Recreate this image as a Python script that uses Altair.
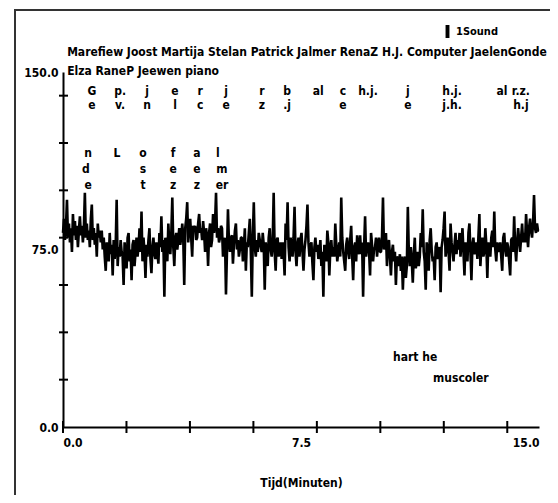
import altair as alt
import pandas as pd
import numpy as np

# ---- series ----
series_name = "1Sound"
sound = [
    82, 88, 79, 85, 96, 80, 86, 78, 84, 74, 90, 81, 87, 79, 85, 76, 83, 89, 81, 85,
    78, 84, 99, 80, 86, 79, 83, 76, 88, 94, 79, 84, 77, 82, 72, 86, 80, 83, 78, 83,
    75, 80, 72, 66, 78, 74, 70, 82, 73, 77, 64, 79, 71, 76, 96, 68, 76, 72, 79, 74,
    72, 60, 78, 71, 67, 80, 82, 70, 75, 62, 77, 79, 68, 74, 80, 72, 76, 84, 74, 91,
    70, 80, 74, 63, 77, 72, 79, 84, 71, 65, 76, 80, 73, 71, 78, 74, 69, 82, 76, 89,
    74, 79, 55, 80, 73, 70, 86, 77, 73, 82, 97, 76, 68, 80, 82, 75, 79, 84, 77, 80,
    86, 80, 60, 84, 88, 95, 78, 84, 88, 80, 72, 85, 83, 85, 79, 80, 86, 90, 82, 84,
    79, 87, 82, 74, 84, 80, 68, 82, 86, 76, 79, 90, 82, 86, 99, 80, 84, 78, 80, 85,
    84, 72, 78, 80, 56, 74, 92, 78, 74, 80, 81, 69, 77, 83, 86, 75, 79, 72, 75, 80,
    80, 70, 76, 84, 66, 78, 76, 82, 88, 74, 55, 80, 95, 76, 72, 79, 74, 82, 79, 76,
    74, 82, 77, 58, 78, 72, 68, 80, 84, 75, 72, 78, 99, 74, 66, 79, 80, 72, 76, 78,
    71, 78, 74, 64, 86, 79, 95, 76, 70, 80, 78, 72, 80, 93, 74, 68, 77, 80, 72, 79,
    82, 74, 66, 75, 79, 85, 94, 78, 72, 77, 78, 69, 62, 76, 80, 74, 77, 71, 74, 79,
    68, 74, 55, 77, 72, 70, 83, 78, 64, 75, 79, 72, 76, 72, 86, 77, 70, 74, 78, 72,
    97, 80, 74, 70, 66, 77, 80, 74, 71, 79, 85, 72, 62, 76, 78, 70, 81, 75, 73, 81,
    73, 78, 55, 76, 89, 72, 76, 78, 74, 64, 82, 77, 70, 75, 76, 80, 72, 77, 80, 74,
    74, 80, 97, 75, 79, 82, 68, 76, 79, 72, 64, 74, 77, 70, 74, 60, 72, 71, 68, 73,
    66, 72, 58, 70, 72, 63, 68, 93, 74, 68, 76, 70, 61, 73, 80, 67, 70, 74, 68, 72,
    82, 76, 92, 74, 70, 58, 78, 74, 66, 79, 84, 75, 70, 72, 62, 76, 78, 71, 74, 76,
    57, 76, 79, 84, 91, 72, 76, 80, 74, 66, 86, 78, 74, 70, 77, 82, 73, 79, 75, 82,
    72, 78, 84, 74, 64, 78, 76, 70, 82, 86, 74, 62, 77, 80, 73, 76, 78, 71, 80, 90,
    68, 76, 80, 72, 74, 84, 77, 63, 78, 74, 72, 80, 83, 76, 91, 75, 70, 78, 74, 76,
    78, 72, 66, 80, 82, 75, 72, 78, 76, 70, 64, 79, 80, 74, 89, 76, 70, 78, 84, 79,
    74, 80, 86, 78, 82, 78, 90, 82, 76, 84, 88, 83, 80, 86, 98, 84, 82, 86, 83, 83,
]
minutes = np.linspace(0, 15, len(sound))

x_tick_values = [0, 2, 4, 6, 8, 10, 12, 14]
y_tick_values = [20, 40, 60, 80, 100, 120, 140]
x_label_values = [0, 7.5, 15]
y_label_values = [0, 75, 150]

x_title = "Tijd(Minuten)"

# ---- annotation texts ----
names_text = ["Marefiew Joost Martija Stelan Patrick Jalmer RenaZ H.J. Computer JaelenGonde",
              "Elza RaneP Jeewen piano",
              "hart he", "muscoler"]
names_t = [0.13, 0.13, 10.40, 11.66]
names_v = [158.5, 150.5, 29.6, 20.7]

letters_text = ["G", "p.", "j", "e", "r", "j", "r", "b", "al", "c", "h.j.", "j", "h.j.", "al", "r.z.",
                "e", "v.", "n", "l", "c", "e", "z", ".j", "e", "e", "j.h.", "h.j",
                "n", "L", "o", "f", "a", "l",
                "d", "s", "e", "e", "m",
                "e", "t", "z", "z", "er"]
letters_t = [0.91, 1.80, 2.65, 3.53, 4.32, 5.14, 6.27, 7.06, 8.04, 8.82, 9.61, 10.87, 12.26, 13.83, 14.43,
             0.91, 1.80, 2.65, 3.53, 4.32, 5.14, 6.27, 7.06, 8.82, 10.87, 12.26, 14.43,
             0.79, 1.70, 2.52, 3.47, 4.22, 4.88,
             0.72, 2.52, 3.47, 4.22, 5.01,
             0.79, 2.52, 3.47, 4.22, 5.01]
letters_v = [142.0] * 15 + [136.1] * 12 + [115.8] * 6 + [109.1] * 5 + [102.3] * 5

FONT = "Liberation Sans Narrow, DejaVu Sans Condensed, Arial Narrow, sans-serif"

df = pd.DataFrame({"t": minutes, "v": sound, "series": series_name})
xticks_df = pd.DataFrame({"t": x_tick_values})
yticks_df = pd.DataFrame({"v": y_tick_values})
names_df = pd.DataFrame({"t": names_t, "v": names_v, "label": names_text})
letters_df = pd.DataFrame({"t": letters_t, "v": letters_v, "label": letters_text})

W, H = 476, 355
xs = alt.Scale(domain=[0, 15], nice=False, zero=False)
ys = alt.Scale(domain=[0, 150], nice=False, zero=True)

line = alt.Chart(df).mark_line(strokeWidth=2.6, strokeJoin="bevel", clip=False).encode(
    x=alt.X("t:Q", scale=xs, axis=alt.Axis(
        values=x_label_values, format=".1f", title=x_title, ticks=False, tickSize=0,
        grid=False, domainColor="black", domainWidth=2, labelPadding=10,
        titleY=55, titleBaseline="middle")),
    y=alt.Y("v:Q", scale=ys, axis=alt.Axis(
        values=y_label_values, format=".1f", title=None, ticks=False, tickSize=0,
        grid=False, domainColor="black", domainWidth=2, labelPadding=5)),
    color=alt.Color("series:N", scale=alt.Scale(domain=[series_name], range=["black"]),
                    legend=alt.Legend(title=None, orient="none", legendX=378, legendY=-47,
                                      symbolType="M-0.3,-1L0.3,-1L0.3,1L-0.3,1Z",
                                      symbolSize=169, symbolFillColor="black",
                                      symbolStrokeColor="black", symbolStrokeWidth=0,
                                      labelFont=FONT, labelFontSize=11, labelFontWeight="bold",
                                      labelColor="black", labelOffset=2, padding=0)),
)

xt = alt.Chart(xticks_df).mark_rule(color="black", strokeWidth=2).encode(
    x=alt.X("t:Q", scale=xs), y=alt.value(H - 6), y2=alt.value(H + 6))
yt = alt.Chart(yticks_df).mark_rule(color="black", strokeWidth=2).encode(
    y=alt.Y("v:Q", scale=ys), x=alt.value(-4), x2=alt.value(5))

names = alt.Chart(names_df).mark_text(align="left", baseline="middle", font=FONT,
                                      fontSize=12, fontWeight="bold", color="black").encode(
    x=alt.X("t:Q", scale=xs), y=alt.Y("v:Q", scale=ys), text="label:N")
letters = alt.Chart(letters_df).mark_text(align="center", baseline="middle", font=FONT,
                                          fontSize=12, fontWeight="bold", color="black").encode(
    x=alt.X("t:Q", scale=xs), y=alt.Y("v:Q", scale=ys), text="label:N")

frame_left = alt.Chart(df.head(1)).mark_rule(color="#333", strokeWidth=2).encode(
    x=alt.value(-48), y=alt.value(-62), y2=alt.value(425))
frame_top = alt.Chart(df.head(1)).mark_rule(color="#333", strokeWidth=2).encode(
    x=alt.value(-49), x2=alt.value(490), y=alt.value(-62))

chart = alt.layer(frame_left, frame_top, line, xt, yt, names, letters).properties(
    width=W, height=H,
    padding={"left": 55, "top": 64, "right": 11, "bottom": 68},
    autosize=alt.AutoSizeParams(type="none"),
    background="white",
).configure_view(stroke=None).configure_axis(
    labelFont=FONT, labelFontSize=12, labelFontWeight="bold", labelColor="black",
    titleFont=FONT, titleFontSize=12, titleFontWeight="bold", titleColor="black",
)

chart.save("out.html", embed_options={"renderer": "svg", "actions": False})
